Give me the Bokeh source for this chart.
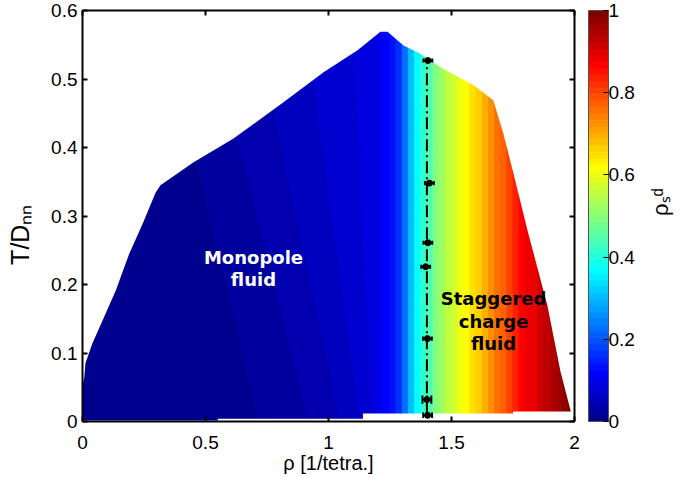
import numpy as np
from bokeh.plotting import figure
from bokeh.models import (LinearColorMapper, ColorBar, FixedTicker, CustomJSTickFormatter,
                          LinearAxis, Label, Range1d, ColumnDataSource)
from bokeh.transform import transform
from bokeh.embed import file_html
from bokeh.resources import INLINE

# ---------------- data ----------------
# boundary of the computed region (rho, T/Dnn)
region_rho = [0.0, 0.0, 0.007, 0.012, 0.04, 0.081, 0.135, 0.19, 0.245, 0.297, 0.317, 0.45,
              0.614, 0.817, 0.98, 1.118, 1.211, 1.24, 1.305, 1.374, 1.455, 1.59, 1.67, 1.711,
              1.752, 1.809, 1.89, 1.943, 1.984, 1.984, 1.75, 1.75, 1.14, 1.14, 0.55, 0.55]
region_T = [0.0015, 0.053, 0.064, 0.085, 0.114, 0.147, 0.191, 0.245, 0.289, 0.334, 0.345, 0.378,
            0.413, 0.466, 0.51, 0.542, 0.569, 0.569, 0.549, 0.537, 0.517, 0.491, 0.469, 0.42,
            0.362, 0.279, 0.169, 0.073, 0.016, 0.0146, 0.0146, 0.0117, 0.0117, 0.004, 0.004, 0.0015]

# slanted low-density bands: edge positions at T=0 and T=0.6, and band values
band_edge_rho_T0 = [-0.02, 0.72, 0.92, 1.05, 1.13, 1.18, 1.20]
band_edge_rho_T06 = [-0.02, 0.32, 0.50, 0.69, 0.90, 1.10, 1.20]
band_T_lo, band_T_hi = 0.0, 0.6
band_val = [0.008, 0.023, 0.039, 0.055, 0.070, 0.086]

# vertical strips at higher density: left edges and values
strip_rho = [1.200, 1.225, 1.250, 1.275, 1.300, 1.325, 1.350, 1.375, 1.400, 1.425, 1.450,
             1.475, 1.500, 1.525, 1.550, 1.575, 1.600, 1.625, 1.650, 1.675, 1.700, 1.725,
             1.750, 1.775, 1.800, 1.825, 1.850, 1.875, 1.900, 1.925, 1.950, 1.975, 2.000]
strip_val = [0.105, 0.120, 0.140, 0.170, 0.230, 0.300, 0.370, 0.410, 0.450, 0.490, 0.520,
             0.550, 0.575, 0.600, 0.620, 0.645, 0.670, 0.700, 0.730, 0.760, 0.780, 0.800,
             0.830, 0.860, 0.875, 0.890, 0.910, 0.930, 0.945, 0.960, 0.975, 0.990]

# transition points with error bars
eb_rho = [1.404, 1.410, 1.404, 1.395, 1.402, 1.400, 1.403]
eb_T = [0.527, 0.348, 0.261, 0.226, 0.121, 0.032, 0.009]
eb_drho = [0.018, 0.018, 0.018, 0.018, 0.018, 0.018, 0.018]
eb_dT = [0.003, 0.003, 0.003, 0.003, 0.003, 0.006, 0.004]
guide_rho = 1.40

x_ticks = [0, 0.5, 1, 1.5, 2]
y_ticks = [0, 0.1, 0.2, 0.3, 0.4, 0.5, 0.6]
cb_ticks = [0, 0.2, 0.4, 0.6, 0.8, 1]

# ---------------- colormap (MATLAB jet, 64) ----------------
def jet(n=64):
    out = []
    for i in range(n):
        x = (i + 1) / n
        r = min(max(1.5 - abs(4 * x - 3), 0), 1)
        g = min(max(1.5 - abs(4 * x - 2), 0), 1)
        b = min(max(1.5 - abs(4 * x - 1), 0), 1)
        out.append("#%02x%02x%02x" % (round(r * 255), round(g * 255), round(b * 255)))
    return out

mapper = LinearColorMapper(palette=jet(64), low=0, high=1)

FONT = "Liberation Sans"

p = figure(width=688, height=476, x_range=Range1d(0, 2), y_range=Range1d(0, 0.6),
           output_backend="svg", toolbar_location=None,
           min_border_left=82, min_border_right=114, min_border_top=10, min_border_bottom=55)
p.xgrid.visible = False
p.ygrid.visible = False
p.outline_line_color = "black"
p.outline_line_width = 1
p.background_fill_color = "white"

# slanted bands
bxs, bys = [], []
for i in range(len(band_val)):
    bxs.append([band_edge_rho_T0[i], band_edge_rho_T0[i + 1], band_edge_rho_T06[i + 1], band_edge_rho_T06[i]])
    bys.append([band_T_lo, band_T_lo, band_T_hi, band_T_hi])
bsrc = ColumnDataSource(dict(xs=bxs, ys=bys, val=band_val))
p.patches("xs", "ys", source=bsrc, fill_color=transform("val", mapper),
          line_color=transform("val", mapper), line_width=1)

# vertical strips
ssrc = ColumnDataSource(dict(left=strip_rho[:-1], right=strip_rho[1:], val=strip_val))
p.quad(left="left", right="right", bottom=band_T_lo, top=band_T_hi, source=ssrc,
       fill_color=transform("val", mapper), line_color=transform("val", mapper), line_width=1)

# white mask outside region
outer_x = [-0.05, 2.05, 2.05, -0.05]
outer_y = [-0.05, -0.05, 0.65, 0.65]
p.multi_polygons(xs=[[[outer_x, region_rho]]], ys=[[[outer_y, region_T]]],
                 fill_color="white", line_color=None)

# guide line
p.line(x=[guide_rho, guide_rho], y=[min(eb_T), max(eb_T)], line_color="black",
       line_width=2, line_dash="12 4 2 4")

# error bars
esrc = ColumnDataSource(dict(
    x=eb_rho, y=eb_T,
    x0=[a - d for a, d in zip(eb_rho, eb_drho)], x1=[a + d for a, d in zip(eb_rho, eb_drho)],
    y0=[a - d for a, d in zip(eb_T, eb_dT)], y1=[a + d for a, d in zip(eb_T, eb_dT)]))
p.segment(x0="x0", y0="y", x1="x1", y1="y", source=esrc, line_color="black", line_width=2)
p.segment(x0="x", y0="y0", x1="x", y1="y1", source=esrc, line_color="black", line_width=2)
p.segment(x0="x0", y0="y0", x1="x0", y1="y1", source=esrc, line_color="black", line_width=2)
p.segment(x0="x1", y0="y0", x1="x1", y1="y1", source=esrc, line_color="black", line_width=2)
p.scatter(x="x", y="y", source=esrc, size=6, marker="circle", fill_color="black", line_color="black")

# axes
fmt = CustomJSTickFormatter(code="return String(Math.round(tick*10)/10);")
blank = CustomJSTickFormatter(code="return '';")
for ax in (p.xaxis[0], p.yaxis[0]):
    ax.major_label_text_font = FONT
    ax.major_label_text_font_size = "19px"
    ax.major_label_text_color = "black"
    ax.axis_line_width = 2
    ax.axis_line_color = "black"
    ax.major_tick_in = 5
    ax.major_tick_out = 0
    ax.major_tick_line_width = 2
    ax.minor_tick_in = 0
    ax.minor_tick_out = 0
    ax.formatter = fmt
    ax.axis_label_text_font = FONT
    ax.axis_label_text_font_style = "normal"
    ax.axis_label_text_color = "black"
p.xaxis[0].ticker = FixedTicker(ticks=x_ticks)
p.yaxis[0].ticker = FixedTicker(ticks=y_ticks)
p.xaxis[0].major_label_standoff = 14
p.yaxis[0].major_label_standoff = 5
p.xaxis[0].axis_label = "ρ [1/tetra.]"
p.xaxis[0].axis_label_text_font_size = "20px"
p.xaxis[0].axis_label_standoff = 0
p.yaxis[0].axis_label = "T/Dₙₙ\u2002\u2002\u2002"
p.yaxis[0].axis_label_text_font_size = "25px"
p.yaxis[0].axis_label_standoff = 14

for loc, tk in (("above", x_ticks), ("right", y_ticks)):
    ax = LinearAxis(ticker=FixedTicker(ticks=tk), major_label_text_font_size="1px",
                    major_label_standoff=0, major_tick_in=5, major_tick_out=0,
                    minor_tick_in=0, minor_tick_out=0, axis_line_width=2,
                    major_tick_line_width=2, formatter=blank)
    p.add_layout(ax, loc)

# colour bar
cb = ColorBar(color_mapper=mapper, width=20, height=411, padding=0, margin=0, location=(14, 0),
              ticker=FixedTicker(ticks=cb_ticks), formatter=fmt,
              major_label_text_font=FONT, major_label_text_font_size="19px",
              major_label_text_color="black",
              major_tick_in=5, major_tick_out=0, major_tick_line_color="black",
              bar_line_color="#555555", bar_line_width=1, label_standoff=0,
              background_fill_alpha=0, border_line_alpha=0)
p.add_layout(cb, "right")

# colour-bar label as a bare axis further right
cax = LinearAxis(ticker=FixedTicker(ticks=[]), formatter=blank, axis_line_color=None,
                 major_tick_line_color=None, minor_tick_line_color=None,
                 major_label_text_font_size="1px", axis_label="ρₛᵈ",
                 axis_label_text_font=FONT, axis_label_text_font_size="22px",
                 axis_label_text_color="black",
                 axis_label_text_font_style="normal", axis_label_standoff=23)
if "axis_label_orientation" in cax.properties():
    cax.axis_label_orientation = np.pi / 2
p.add_layout(cax, "right")

# texts
def lab(txt, x, y, size, color="black"):
    p.add_layout(Label(x=x, y=y, text=txt, text_font="DejaVu Sans", text_font_size=size,
                       text_color=color, text_font_style="bold",
                       text_align="center", text_baseline="middle"))

lab("Monopole", 0.695, 0.240, "18px", "white")
lab("fluid", 0.695, 0.207, "18px", "white")
lab("Staggered", 1.671, 0.180, "18px")
lab("charge", 1.671, 0.146, "18px")
lab("fluid", 1.671, 0.114, "18px")

open("out.html", "w").write(file_html(p, INLINE))
